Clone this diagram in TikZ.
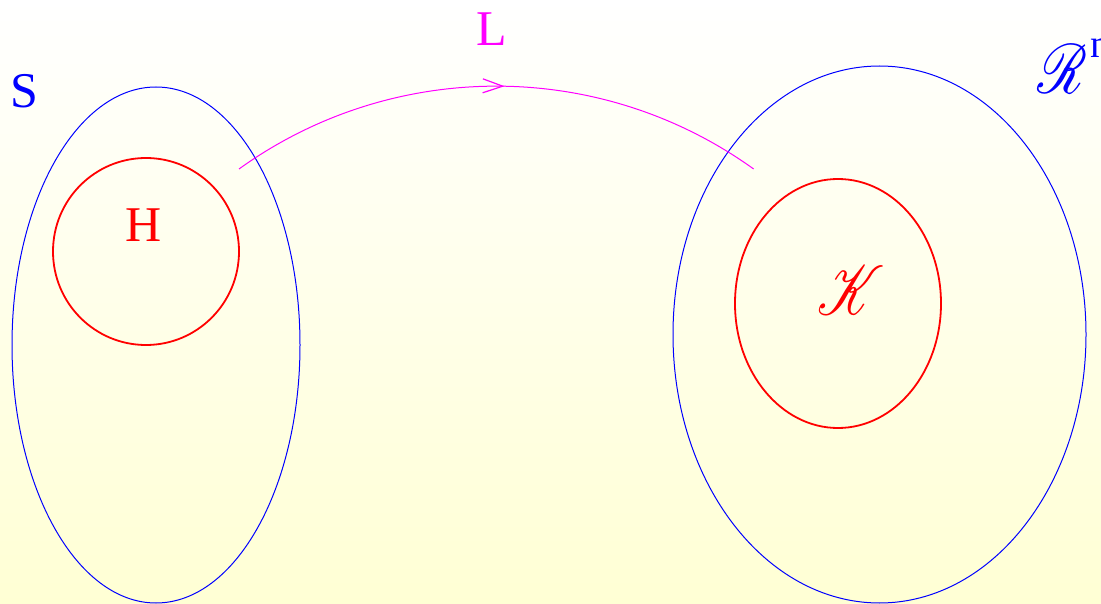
\documentclass[tikz,border=0pt]{standalone}
\usepackage{fontspec}
\setmainfont{Liberation Serif}
\usepackage{mathrsfs}
\usepackage{graphicx}
\usetikzlibrary{arrows.meta,decorations.markings}
\definecolor{bgyellow}{RGB}{255,255,212}
\definecolor{mapcol}{RGB}{255,0,255}
\definecolor{setblue}{RGB}{0,0,255}
\definecolor{subred}{RGB}{255,0,0}
\tikzset{
  setbox/.style={draw=setblue, line width=1pt},
  subbox/.style={draw=subred, line width=1.8pt},
  lab/.style={inner sep=0pt, font=\fontsize{50}{60}\selectfont},
  maparrow/.style={draw=mapcol, line width=1pt,
    postaction={decorate},
    decoration={markings, mark=at position 0.515 with {\arrow[mapcol,line width=1.2pt]{Straight Barb[length=20pt,width=14pt]}}}}
}
\begin{document}
\begin{tikzpicture}[x=1pt,y=-1pt]
\useasboundingbox (0,0) rectangle (1101,604);
\shade[top color=white, bottom color=bgyellow] (0,0) rectangle (1101,604);
% sets
\draw[setbox] (156,345) ellipse [x radius=144, y radius=258];
\draw[subbox] (146,251.5) ellipse [x radius=93, y radius=93.5];
\draw[setbox] (879.5,334.5) ellipse [x radius=206.5, y radius=268.5];
\draw[subbox] (838,303.5) ellipse [x radius=103, y radius=124.5];
% labels
\node[lab, text=setblue] (S) at (24,91) {S};
\node[lab, text=subred] (H) at (143.5,225) {H};
\node[lab, text=mapcol] (L) at (491.5,29.5) {L};
\node[lab, text=subred] (K) at (851,290) {\scalebox{2.2}[2.8]{$\mathscr{K}$}};
\node[lab, text=setblue, anchor=base west] (R) at (1037,94) {\scalebox{2.2}[2.8]{$\mathscr{R}$}\hspace{3pt}\raisebox{36pt}{\fontsize{40}{48}\selectfont n}};
% map
\coordinate (Ls) at (239,169);
\coordinate (Le) at (755,169);
\path[maparrow] (Ls) arc [start angle=234.3, end angle=305.7, radius=441];
\end{tikzpicture}
\end{document}
